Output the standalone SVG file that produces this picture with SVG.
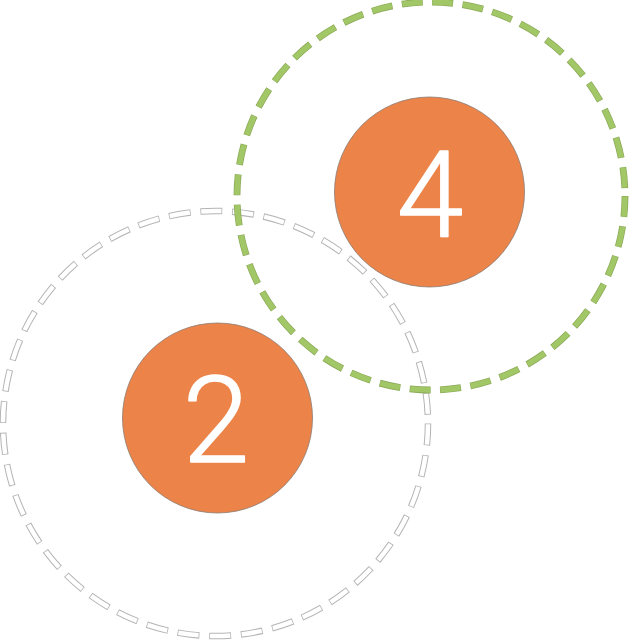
<svg xmlns="http://www.w3.org/2000/svg" width="640" height="640" viewBox="0 0 640 640">
<style>
.ring-gray-o{fill:none;stroke:#b4b4b4;stroke-width:6.5;stroke-dasharray:22 9.8}
.ring-gray-i{fill:none;stroke:#ffffff;stroke-width:4.5;stroke-dasharray:20.4 11.4;stroke-dashoffset:-0.8}
.ring-green-o{fill:none;stroke:#8aa858;stroke-width:6.8;stroke-dasharray:21 9.5}
.ring-green-i{fill:none;stroke:#a2c766;stroke-width:5.4;stroke-dasharray:20 10.5;stroke-dashoffset:-0.5}
.dot{fill:#ec844a;stroke:#8a7a70;stroke-width:0.8}
.num{font-family:Roboto,"Liberation Sans",sans-serif;font-weight:300;font-size:120px;fill:#ffffff;stroke:#ffffff;stroke-width:1.5;stroke-linejoin:round;text-anchor:middle}
</style>
<rect width="640" height="640" fill="#ffffff"/>
<g id="ring-gray">
<circle class="ring-gray-o" cx="215.5" cy="423.5" r="212.5"/>
<circle class="ring-gray-i" cx="215.5" cy="423.5" r="212.5"/>
</g>
<g id="ring-green">
<circle class="ring-green-o" cx="431" cy="196" r="194"/>
<circle class="ring-green-i" cx="431" cy="196" r="194"/>
</g>
<g id="node-4">
<circle class="dot" cx="429.5" cy="192" r="95"/>
<text class="num" x="430" y="237">4</text>
</g>
<g id="node-2">
<circle class="dot" cx="217.5" cy="418" r="95"/>
<text class="num" x="216" y="462">2</text>
</g>
<g id="connectors"></g>
</svg>
